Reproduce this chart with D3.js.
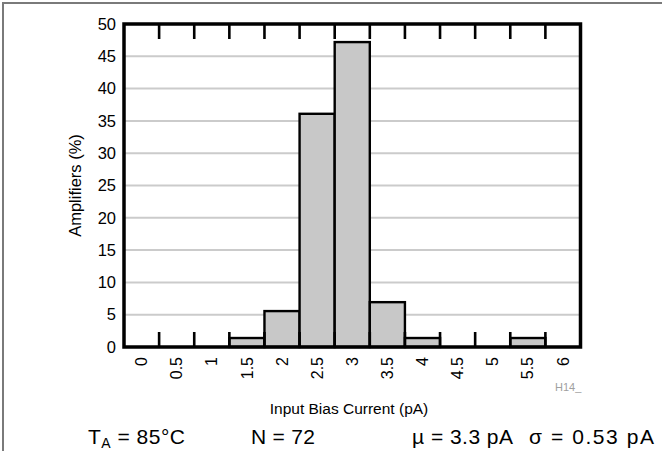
<!DOCTYPE html>
<html>
<head>
<meta charset="utf-8">
<script src="https://d3js.org/d3.v7.min.js"></script>
<style>
  body { margin: 0; background: #ffffff; }
  text { font-family: "Liberation Sans", Arial, Helvetica, sans-serif; fill: #000; }
</style>
</head>
<body>
<div id="chart"></div>
<script>
// histogram bins (pA) and share of amplifiers (%), N = 72
var categories = ["0", "0.5", "1", "1.5", "2", "2.5", "3", "3.5", "4", "4.5", "5", "5.5", "6"];
var percents   = [0, 0, 0, 1.39, 5.56, 36.1, 47.2, 6.94, 1.39, 0, 0, 1.39, 0];
var yTicks     = [0, 5, 10, 15, 20, 25, 30, 35, 40, 45, 50];
var stats      = [
  {label: "T", sub: "A", rest: " = 85°C", x: 88, len: 97},
  {label: "N = 72", x: 251, len: 64},
  {label: "µ = 3.3 pA", x: 412, len: 101},
  {label: "σ = 0.53 pA", x: 529, len: 125}
];

var W = 662, H = 451;
var margin = {top: 24, right: 81.5, bottom: 104, left: 124};
var width = W - margin.left - margin.right,
    height = H - margin.top - margin.bottom;

var svg = d3.select("#chart")
  .append("svg")
    .attr("width", W)
    .attr("height", H);

// outer frame (top + left edges only)
svg.append("path")
  .attr("d", "M3,451 V3 H662")
  .attr("fill", "none")
  .attr("stroke", "#7a7a7a")
  .attr("stroke-width", 2);

var g = svg.append("g")
  .attr("transform", "translate(" + margin.left + "," + margin.top + ")");

var x = d3.scaleBand()
  .domain(categories)
  .range([0, width])
  .padding(0);

var y = d3.scaleLinear()
  .domain([0, 50])
  .range([height, 0]);

// horizontal grid
g.append("g")
  .selectAll("line")
  .data(yTicks.filter(function(d) { return d > 0 && d < 50; }))
  .enter()
  .append("line")
    .attr("x1", 0)
    .attr("x2", width)
    .attr("y1", function(d) { return y(d); })
    .attr("y2", function(d) { return y(d); })
    .attr("stroke", "#cbcbcb")
    .attr("stroke-width", 2);

// bars
g.append("g")
  .selectAll("rect")
  .data(categories.map(function(c, i) { return {c: c, v: percents[i]}; })
    .filter(function(d) { return d.v > 0; }))
  .enter()
  .append("rect")
    .attr("x", function(d) { return x(d.c); })
    .attr("y", function(d) { return y(d.v); })
    .attr("width", x.bandwidth())
    .attr("height", function(d) { return y(0) - y(d.v); })
    .attr("fill", "#c8c8c8")
    .attr("stroke", "#000")
    .attr("stroke-width", 2.4);

// bin boundary ticks, top and bottom
var bounds = categories.slice(1).map(function(c) { return x(c); });
var ticks = g.append("g");
ticks.selectAll("line.top")
  .data(bounds)
  .enter()
  .append("line")
    .attr("class", "top")
    .attr("x1", function(d) { return d; })
    .attr("x2", function(d) { return d; })
    .attr("y1", 0)
    .attr("y2", 15)
    .attr("stroke", "#000")
    .attr("stroke-width", 2.6);
ticks.selectAll("line.bot")
  .data(bounds)
  .enter()
  .append("line")
    .attr("class", "bot")
    .attr("x1", function(d) { return d; })
    .attr("x2", function(d) { return d; })
    .attr("y1", height)
    .attr("y2", height - 15)
    .attr("stroke", "#000")
    .attr("stroke-width", 2.6);

// plot border
g.append("rect")
  .attr("x", 0)
  .attr("y", 0)
  .attr("width", width)
  .attr("height", height)
  .attr("fill", "none")
  .attr("stroke", "#000")
  .attr("stroke-width", 3.5);

// y axis labels
var yAxis = g.append("g")
  .call(d3.axisLeft(y).tickValues(yTicks).tickSize(0).tickPadding(8));
yAxis.select(".domain").remove();
yAxis.selectAll("text")
  .style("font-family", "Liberation Sans, Arial, sans-serif")
  .style("font-size", "16.5px")
  .attr("fill", "#000");

// x axis labels, rotated
var xAxis = g.append("g")
  .attr("transform", "translate(0," + height + ")")
  .call(d3.axisBottom(x).tickSize(0));
xAxis.select(".domain").remove();
xAxis.selectAll("text")
  .style("font-family", "Liberation Sans, Arial, sans-serif")
  .style("font-size", "16px")
  .attr("fill", "#000")
  .attr("transform", "rotate(-90)")
  .attr("x", -10)
  .attr("y", 0)
  .attr("dy", "0.35em")
  .style("text-anchor", "end");

// axis titles
g.append("text")
  .attr("transform", "rotate(-90)")
  .attr("x", -height / 2)
  .attr("y", -43)
  .style("text-anchor", "middle")
  .style("font-size", "16.5px")
  .text("Amplifiers (%)");

svg.append("text")
  .attr("x", 349)
  .attr("y", 414)
  .style("text-anchor", "middle")
  .style("font-size", "15.5px")
  .text("Input Bias Current (pA)");

svg.append("text")
  .attr("x", 555)
  .attr("y", 391)
  .style("font-size", "11px")
  .style("fill", "#a0a0a0")
  .text("H14_");

// test conditions line
stats.forEach(function(s) {
  var t = svg.append("text")
    .attr("x", s.x)
    .attr("y", 444)
    .attr("textLength", s.len)
    .attr("lengthAdjust", "spacing")
    .style("font-size", "21px");
  t.append("tspan").text(s.label);
  if (s.sub) {
    t.append("tspan").attr("dy", 4).style("font-size", "14px").text(s.sub);
    t.append("tspan").attr("dy", -4).text(s.rest);
  }
});
</script>
</body>
</html>
